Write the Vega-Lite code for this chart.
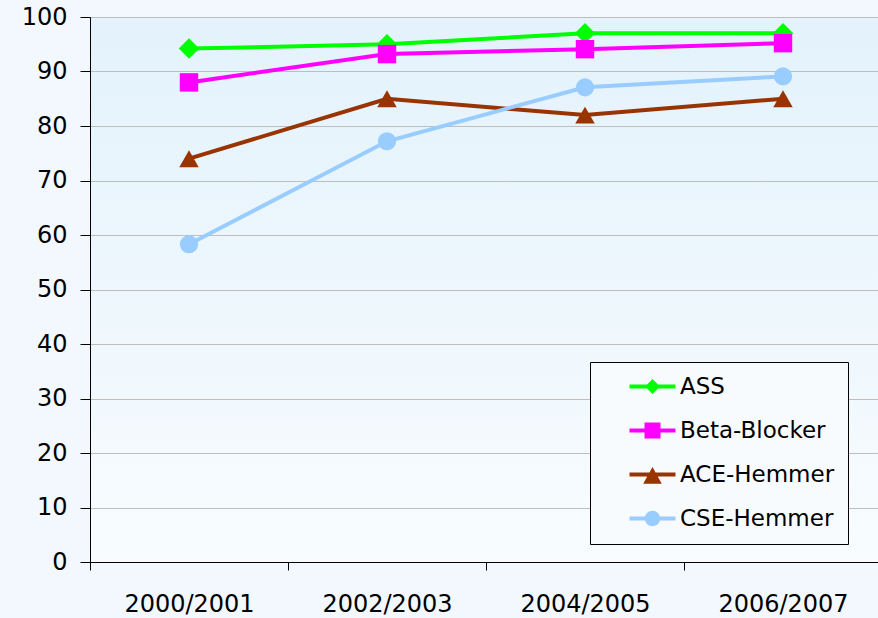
{
  "$schema": "https://vega.github.io/schema/vega-lite/v6.json",
  "width": 792,
  "height": 545,
  "autosize": {"type": "none"},
  "padding": {"left": 90, "top": 17, "right": 0, "bottom": 56},
  "background": "#F2F8FD",
  "config": {
    "font": "DejaVu Sans",
    "view": {
      "stroke": "#000000",
      "strokeWidth": 1,
      "fill": {"gradient": "linear", "x1": 0, "y1": 0, "x2": 0, "y2": 1, "stops": [{"offset": 0, "color": "#E3F2FC"}, {"offset": 1, "color": "#F8FCFE"}]}
    }
  },
  "data": {
    "values": [
      {"Jahr": "2000/2001", "Wirkstoff": "ASS", "Wert": 94.2},
      {"Jahr": "2002/2003", "Wirkstoff": "ASS", "Wert": 95},
      {"Jahr": "2004/2005", "Wirkstoff": "ASS", "Wert": 97},
      {"Jahr": "2006/2007", "Wirkstoff": "ASS", "Wert": 97},
      {"Jahr": "2000/2001", "Wirkstoff": "Beta-Blocker", "Wert": 88},
      {"Jahr": "2002/2003", "Wirkstoff": "Beta-Blocker", "Wert": 93.2},
      {"Jahr": "2004/2005", "Wirkstoff": "Beta-Blocker", "Wert": 94.1},
      {"Jahr": "2006/2007", "Wirkstoff": "Beta-Blocker", "Wert": 95.2},
      {"Jahr": "2000/2001", "Wirkstoff": "ACE-Hemmer", "Wert": 74},
      {"Jahr": "2002/2003", "Wirkstoff": "ACE-Hemmer", "Wert": 85},
      {"Jahr": "2004/2005", "Wirkstoff": "ACE-Hemmer", "Wert": 82},
      {"Jahr": "2006/2007", "Wirkstoff": "ACE-Hemmer", "Wert": 85},
      {"Jahr": "2000/2001", "Wirkstoff": "CSE-Hemmer", "Wert": 58.3},
      {"Jahr": "2002/2003", "Wirkstoff": "CSE-Hemmer", "Wert": 77.2},
      {"Jahr": "2004/2005", "Wirkstoff": "CSE-Hemmer", "Wert": 87.1},
      {"Jahr": "2006/2007", "Wirkstoff": "CSE-Hemmer", "Wert": 89.1}
    ]
  },
  "encoding": {
    "x": {
      "field": "Jahr", "type": "ordinal", "sort": null,
      "scale": {"type": "band", "paddingInner": 0, "paddingOuter": 0},
      "axis": {"title": null, "labelAngle": 0, "labelFontSize": 24, "labelColor": "#000000", "labelPadding": 22, "tickSize": 8, "tickColor": "#000000", "domainColor": "#000000", "tickBand": "extent", "grid": false, "labelFont": "DejaVu Sans"}
    },
    "y": {
      "field": "Wert", "type": "quantitative",
      "scale": {"domain": [0, 100], "nice": false, "zero": true},
      "axis": {"title": null, "values": [0, 10, 20, 30, 40, 50, 60, 70, 80, 90, 100], "labelFontSize": 24, "labelColor": "#000000", "labelPadding": 13, "tickSize": 10, "tickColor": "#000000", "domainColor": "#000000", "gridColor": "#BEBEBE", "gridWidth": 1, "labelFont": "DejaVu Sans"}
    },
    "color": {
      "field": "Wirkstoff", "type": "nominal",
      "scale": {"domain": ["ASS", "Beta-Blocker", "ACE-Hemmer", "CSE-Hemmer"], "range": ["#00FF00", "#FF00FF", "#993300", "#99CCFF"]},
      "legend": {
        "orient": "none", "legendX": 500, "legendY": 345, "title": null,
        "fillColor": "#F8FBFE", "strokeColor": "#000000",
        "padding": 13, "symbolSize": 400, "symbolOffset": 38, "labelOffset": 16, "rowPadding": 20,
        "labelFont": "DejaVu Sans", "labelFontSize": 23, "labelColor": "#000000", "labelLimit": 400,
        "labelExpr": "datum.label + '\u00a0\u00a0\u00a0\u2009'",
        "encode": {
          "symbols": {
            "update": {
              "shape": {"signal": "datum.value === 'ASS' ? 'M-2.3,-0.2H2.3V0.2H-2.3Z M0,-0.75L0.75,0L0,0.75L-0.75,0Z' : datum.value === 'Beta-Blocker' ? 'M-2.3,-0.2H2.3V0.2H-2.3Z M-0.8,-0.8H0.8V0.8H-0.8Z' : datum.value === 'ACE-Hemmer' ? 'M-2.3,-0.2H2.3V0.2H-2.3Z M0,-0.75L0.93,0.93H-0.93Z' : 'M-2.3,-0.2H2.3V0.2H-2.3Z M-0.77,0A0.77,0.77,0,1,1,0.77,0A0.77,0.77,0,1,1,-0.77,0Z'"},
              "fill": {"scale": "color", "field": "value"},
              "stroke": {"value": "transparent"},
              "strokeWidth": {"value": 0},
              "opacity": {"value": 1},
              "fillOpacity": {"value": 1}
            }
          }
        }
      }
    }
  },
  "layer": [
    {"mark": {"type": "line", "strokeWidth": 4}},
    {"transform": [{"filter": "datum.Wirkstoff === 'ASS'"}], "mark": {"type": "point", "filled": true, "opacity": 1, "shape": "diamond", "size": 420}},
    {"transform": [{"filter": "datum.Wirkstoff === 'Beta-Blocker'"}], "mark": {"type": "point", "filled": true, "opacity": 1, "shape": "square", "size": 340}},
    {"transform": [{"filter": "datum.Wirkstoff === 'ACE-Hemmer'"}], "mark": {"type": "point", "filled": true, "opacity": 1, "shape": "triangle-up", "size": 380}},
    {"transform": [{"filter": "datum.Wirkstoff === 'CSE-Hemmer'"}], "mark": {"type": "point", "filled": true, "opacity": 1, "shape": "circle", "size": 330}}
  ]
}
